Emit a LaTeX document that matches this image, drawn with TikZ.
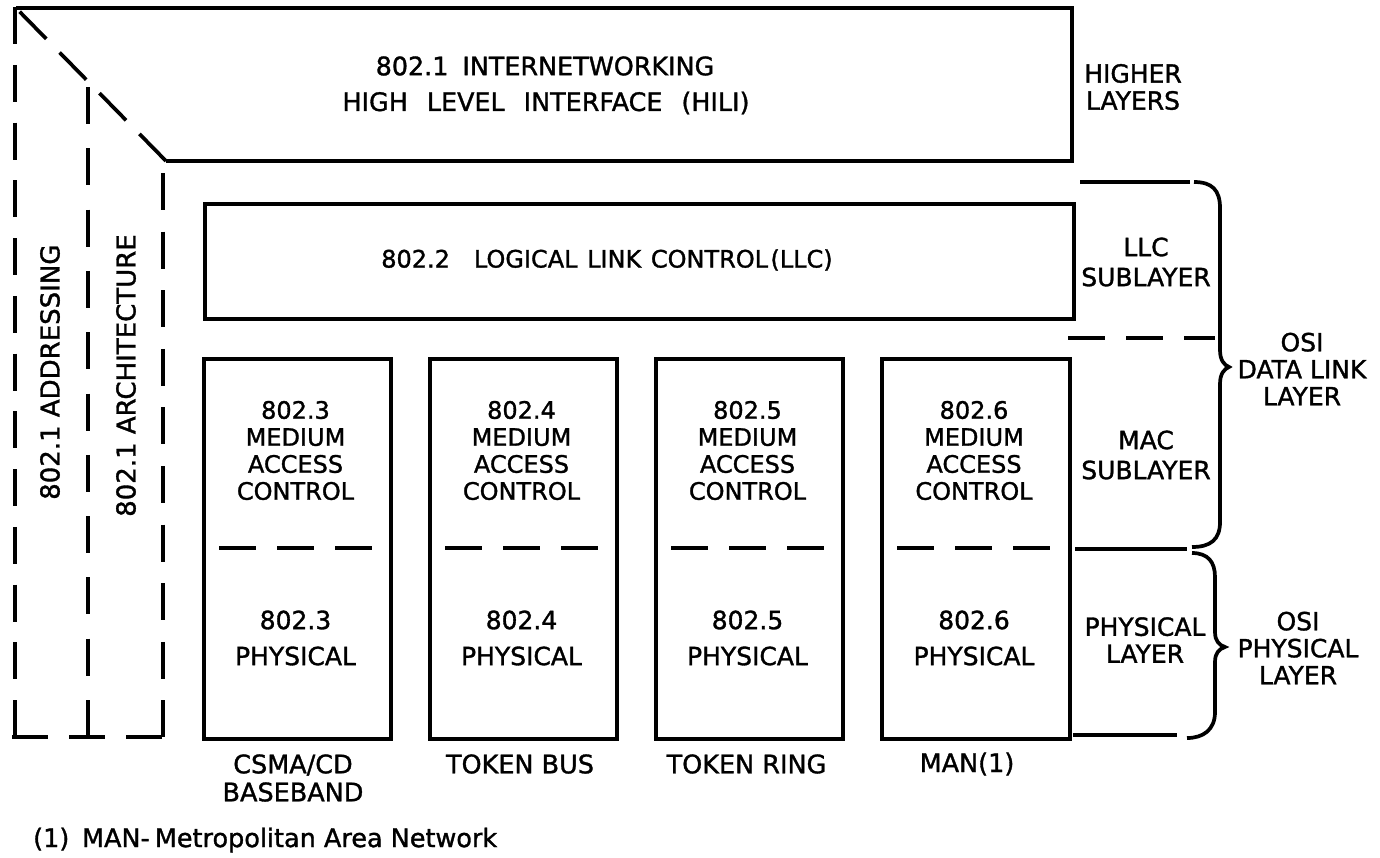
\documentclass[tikz,border=0pt]{standalone}
\usepackage{fontspec}
\newfontfamily\labfont[FakeBold=1.3]{DejaVu Sans}
\begin{document}
\begin{tikzpicture}[x=1pt,y=-1pt,
  solidln/.style={line width=3.7pt},
  dashln/.style={line width=3.7pt, dash pattern=on 37pt off 21pt},
  boxnode/.style={draw, line width=3.7pt, inner sep=0pt, anchor=north west},
  lbl/.style={font=\labfont\fontsize{24}{27}\selectfont, align=center, inner sep=0pt},
  sidelbl/.style={font=\labfont\fontsize{25}{27}\selectfont, align=center, inner sep=0pt},
  biglbl/.style={font=\labfont\fontsize{25.4}{37}\selectfont, inner sep=0pt},
]
\useasboundingbox (0,0) rectangle (1380,857);

% top box (HILI)
\coordinate (tl) at (16,8);
\coordinate (tr) at (1072,8);
\coordinate (br) at (1072,161);
\coordinate (bl) at (166,161);
\draw[solidln] (tl) -- (tr) -- (br) -- (bl);
\draw[line width=3.7pt, dash pattern=on 38pt off 19pt] (bl) -- (tl);
\node[biglbl] (hili1) at (545,66) {802.1\hspace{0.55em}INTERNETWORKING};
\node[biglbl] (hili2) at (546,103) {HIGH\hspace{0.75em}LEVEL\hspace{0.75em}INTERFACE\hspace{0.75em}(HILI)};

% left dashed columns
\draw[line width=3.7pt, dash pattern=on 37pt off 20.75pt] (15,7) -- (15,737);
\draw[line width=3.7pt, dash pattern=on 36pt off 21pt] (12,737) -- (162,737);
\draw[line width=3.7pt, dash pattern=on 37pt off 24.3pt] (88,87) -- (88,737);
\draw[line width=3.7pt, dash pattern=on 37pt off 21.6pt] (163,173) -- (163,737);
\node[sidelbl, rotate=90, anchor=west, font=\labfont\fontsize{26}{27}\selectfont] (addr) at (50,500) {802.1 ADDRESSING};
\node[sidelbl, rotate=90, anchor=west, font=\labfont\fontsize{26}{27}\selectfont] (arch) at (126,517) {802.1 ARCHITECTURE};

% LLC box
\node[boxnode, minimum width=869pt, minimum height=115pt] (llc) at (203,202) {};
\node[lbl] (llct) at (607,260) {802.2\hspace{1em}LOGICAL\hspace{0.4em}LINK\hspace{0.4em}CONTROL\hspace{0.1em}(LLC)};

% MAC / PHY boxes
\node[boxnode, minimum width=187pt, minimum height=380pt] (m3) at (202,357) {};
\node[boxnode, minimum width=187pt, minimum height=380pt] (m4) at (428,357) {};
\node[boxnode, minimum width=187pt, minimum height=380pt] (m5) at (654,357) {};
\node[boxnode, minimum width=188pt, minimum height=380pt] (m6) at (880,357) {};
\draw[dashln] (219,548) -- (372,548);
\draw[dashln] (445,548) -- (598,548);
\draw[dashln] (671,548) -- (824,548);
\draw[dashln] (897,548) -- (1051,548);

\node[lbl] (m3t) at (295.5,450.5) {802.3\\MEDIUM\\ACCESS\\CONTROL};
\node[lbl] (m4t) at (521.5,450.5) {802.4\\MEDIUM\\ACCESS\\CONTROL};
\node[lbl] (m5t) at (747.5,450.5) {802.5\\MEDIUM\\ACCESS\\CONTROL};
\node[lbl] (m6t) at (974,450.5) {802.6\\MEDIUM\\ACCESS\\CONTROL};
\node[sidelbl] (p3t) at (295.5,638) {802.3\\[9pt]PHYSICAL};
\node[sidelbl] (p4t) at (521.5,638) {802.4\\[9pt]PHYSICAL};
\node[sidelbl] (p5t) at (747.5,638) {802.5\\[9pt]PHYSICAL};
\node[sidelbl] (p6t) at (974,638) {802.6\\[9pt]PHYSICAL};

\node[sidelbl, font=\labfont\fontsize{25.5}{28}\selectfont] (n3) at (293,778) {CSMA/CD\\BASEBAND};
\node[sidelbl, font=\labfont\fontsize{25.5}{28}\selectfont] (n4) at (520,764) {TOKEN BUS};
\node[sidelbl, font=\labfont\fontsize{25.5}{28}\selectfont] (n5) at (746.5,764) {TOKEN RING};
\node[sidelbl, font=\labfont\fontsize{25.5}{28}\selectfont] (n6) at (967,764) {MAN(1)};

% right side
\node[sidelbl] (hl) at (1133,87) {HIGHER\\LAYERS};
\node[sidelbl] (llcs) at (1146,262) {LLC\\[3pt]SUBLAYER};
\node[sidelbl] (macs) at (1146,455) {MAC\\[3pt]SUBLAYER};
\node[sidelbl] (phys) at (1145,640) {PHYSICAL\\LAYER};
\node[sidelbl] (osidl) at (1302,369) {OSI\\DATA LINK\\LAYER};
\node[sidelbl] (osiph) at (1298,648) {OSI\\PHYSICAL\\LAYER};

\draw[solidln] (1080,182) -- (1190,182);
\draw[solidln] (1194,182) .. controls (1212,182) and (1220,190) .. (1220,208)
  -- (1220,350) .. controls (1220,360) and (1224,365) .. (1229,367)
  .. controls (1224,369) and (1220,374) .. (1220,384)
  -- (1220,522) .. controls (1220,540) and (1210,547) .. (1192,547);
\draw[dashln] (1068,338) -- (1215,338);
\draw[solidln] (1075,549) -- (1187,549);
\draw[solidln] (1192,553) .. controls (1208,553) and (1215,562) .. (1215,577)
  -- (1215,632) .. controls (1215,641) and (1219,645) .. (1225,647)
  .. controls (1219,649) and (1215,653) .. (1215,662)
  -- (1215,712) .. controls (1215,730) and (1203,738) .. (1187,738);
\draw[solidln] (1073,735) -- (1177,735);

% footnote
\node[lbl, anchor=west, font=\labfont\fontsize{25.5}{30}\selectfont] (foot) at (33,840) {(1)\hspace{0.5em}MAN-\hspace{0.2em}Metropolitan Area Network};
\end{tikzpicture}
\end{document}
